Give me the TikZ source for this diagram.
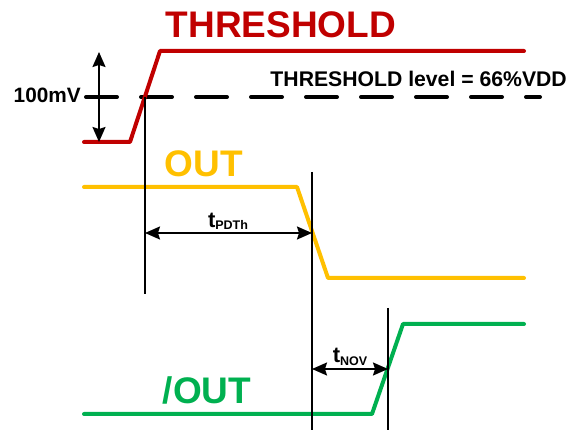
\documentclass[tikz,border=0pt]{standalone}
\usepackage{fontspec}
\setmainfont{Liberation Sans}
\usetikzlibrary{arrows.meta}
\definecolor{sigred}{HTML}{C00000}
\definecolor{sigorange}{HTML}{FFC000}
\definecolor{siggreen}{HTML}{00B050}
\tikzset{
  sig/.style={line width=4pt, line join=round, line cap=round},
  vline/.style={line width=1.6pt, black},
  dim/.style={line width=1.8pt, black, {Stealth[length=15pt,width=13pt,inset=2pt]}-{Stealth[length=15pt,width=13pt,inset=2pt]}},
  big/.style={font=\fontsize{37}{40}\selectfont\bfseries, inner sep=0pt},
  lbl/.style={font=\fontsize{21.2}{24}\selectfont\bfseries, inner sep=0pt},
}
\newcommand{\tsub}[1]{{\fontsize{22}{24}\selectfont t}\raisebox{-2pt}{\fontsize{12.5}{14}\selectfont #1}}
\begin{document}
\begin{tikzpicture}[x=1pt,y=-1pt]
\useasboundingbox (0,0) rectangle (576,430);
% coordinates
\coordinate (r0) at (84,142); \coordinate (r1) at (130,142); \coordinate (r2) at (160,51); \coordinate (r3) at (524,51);
\coordinate (o0) at (84,187); \coordinate (o1) at (297,187); \coordinate (o2) at (328,278); \coordinate (o3) at (524,278);
\coordinate (g0) at (84,414); \coordinate (g1) at (372,414); \coordinate (g2) at (403,324); \coordinate (g3) at (524,324);
\coordinate (d0) at (84,97); \coordinate (d1) at (540,97);
\coordinate (v1t) at (145,97); \coordinate (v1b) at (145,294);
\coordinate (v2t) at (312,172); \coordinate (v2b) at (312,430);
\coordinate (v3t) at (388,308); \coordinate (v3b) at (388,430);
\coordinate (mt) at (99,52); \coordinate (mb) at (99,142);
\coordinate (p1) at (145,233); \coordinate (p2) at (312,233);
\coordinate (n1) at (312,369); \coordinate (n2) at (388,369);
% dashed threshold
\draw[line width=4pt, line cap=round, dash pattern=on 31pt off 24pt, dash phase=-2pt] (d0) -- (d1);
% signals
\draw[sig, sigred] (r0) -- (r1) -- (r2) -- (r3);
\draw[sig, sigorange] (o0) -- (o1) -- (o2) -- (o3);
\draw[sig, siggreen] (g0) -- (g1) -- (g2) -- (g3);
% verticals
\draw[vline] (v1t) -- (v1b);
\draw[vline] (v2t) -- (v2b);
\draw[vline] (v3t) -- (v3b);
% dimension arrows
\draw[dim] (mt) -- (mb);
\draw[dim] (p1) -- (p2);
\draw[dim] (n1) -- (n2);
% labels
\node[big, text=sigred, anchor=base] (thr) at (281,38) {THRESHOLD};
\node[big, text=sigorange, anchor=base] (out) at (204,177) {OUT};
\node[big, text=siggreen, anchor=base] (nout) at (207,403) {/OUT};
\node[lbl, anchor=base east] (lev) at (567,87) {THRESHOLD level = 66\%VDD};
\node[font=\fontsize{20.8}{24}\selectfont\bfseries, inner sep=0pt, anchor=base east] (mv) at (81,103) {100mV};
\node[inner sep=0pt, anchor=base, font=\bfseries] (tp) at (228,228) {\tsub{PDTh}};
\node[inner sep=0pt, anchor=base, font=\bfseries] (tn) at (350,363) {\tsub{NOV}};
\end{tikzpicture}
\end{document}
